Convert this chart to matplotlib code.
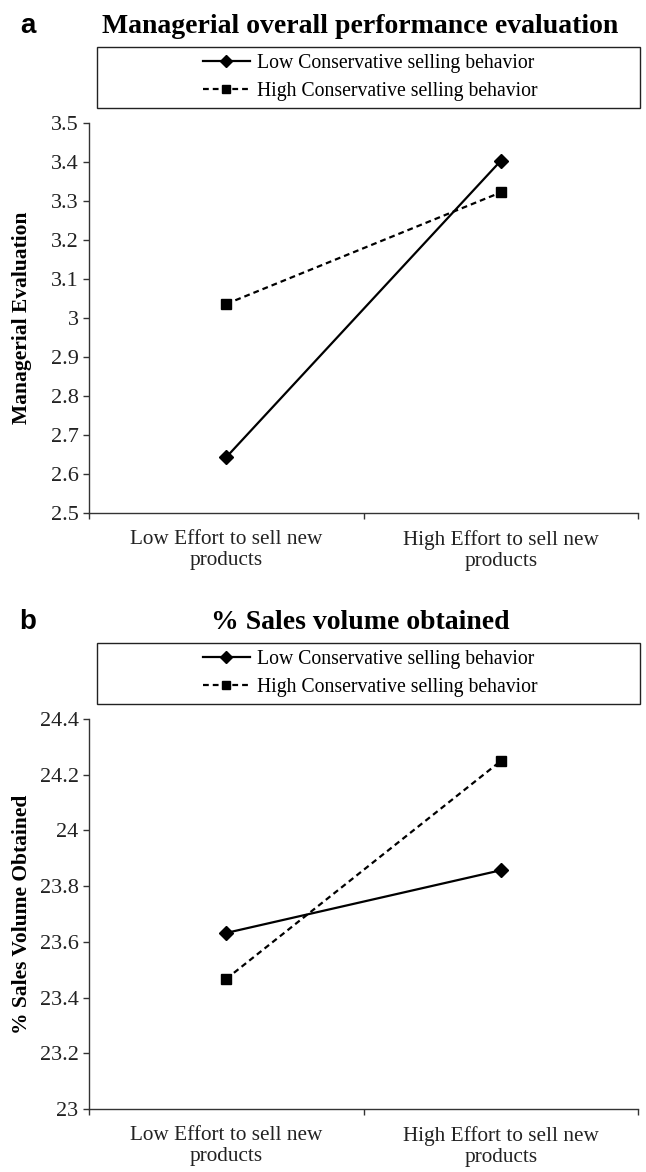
import matplotlib
matplotlib.use("Agg")
import matplotlib.pyplot as plt
from matplotlib.patches import Rectangle

# Data
categories = ["Low Effort to sell new\nproducts", "High Effort to sell new\nproducts"]
series_names = ["Low Conservative selling behavior", "High Conservative selling behavior"]

eval_low = [2.643, 3.403]
eval_high = [3.036, 3.322]
eval_ticks = [2.5, 2.6, 2.7, 2.8, 2.9, 3.0, 3.1, 3.2, 3.3, 3.4, 3.5]
eval_ticklabels = ["2.5", "2.6", "2.7", "2.8", "2.9", "3", "3.1", "3.2", "3.3", "3.4", "3.5"]

sales_low = [23.632, 23.857]
sales_high = [23.467, 24.249]
sales_ticks = [23.0, 23.2, 23.4, 23.6, 23.8, 24.0, 24.2, 24.4]
sales_ticklabels = ["23", "23.2", "23.4", "23.6", "23.8", "24", "24.2", "24.4"]

SERIF = "Liberation Serif"
W, H = 646, 1172

fig = plt.figure(figsize=(W / 100, H / 100), dpi=100)


def fx(px):
    return px / W


def fy(py):
    return 1 - py / H


def panel(letter, title, ylabel, low, high, ticks, ticklabels, ax_top, ylim):
    ax_bot = ax_top + 390
    ax = fig.add_axes([fx(89), fy(ax_bot), fx(638) - fx(89), (ax_bot - ax_top) / H])
    x = [0, 1]
    l1, = ax.plot(x, low, color="black", lw=1.6, marker="D", ms=7.5, mfc="black", mec="black")
    l2, = ax.plot(x, high, color="black", lw=1.6, ls=(0, (2.6, 1.8)), marker="s", ms=7.5,
                  mfc="black", mec="black")
    ax.set_xlim(-0.5, 1.5)
    ax.set_ylim(*ylim)
    ax.spines["top"].set_visible(False)
    ax.spines["right"].set_visible(False)
    for s in ("left", "bottom"):
        ax.spines[s].set_linewidth(1.0)
        ax.spines[s].set_color("#333333")
    ax.set_yticks(ticks)
    ax.set_yticklabels(ticklabels, fontfamily=SERIF, fontsize=16, color="#222222")
    ax.tick_params(axis="y", direction="out", length=4.5, width=1, pad=3, color="#333333")
    ax.set_xticks([-0.5, 0.5, 1.5])
    ax.set_xticklabels([])
    ax.tick_params(axis="x", which="major", direction="out", length=4.5, width=1, color="#333333")
    ax.set_xticks(x, minor=True)
    ax.set_xticklabels(categories, minor=True, fontfamily=SERIF, fontsize=15.3,
                       color="#222222", linespacing=1.2)
    ax.tick_params(axis="x", which="minor", length=0, pad=12)
    ax.set_ylabel(ylabel, fontfamily=SERIF, fontsize=15.5, fontweight="bold")
    ax.yaxis.set_label_coords(-0.104, 0.5)

    # panel letter and title
    fig.text(fx(28), fy(ax_top - 90), letter, fontfamily="Liberation Sans", fontweight="bold",
             fontsize=20, ha="center", va="baseline")
    fig.text(fx(360), fy(ax_top - 90), title, fontfamily=SERIF, fontweight="bold",
             fontsize=20, ha="center", va="baseline")

    # legend box
    box_top, box_bot = ax_top - 76, ax_top - 15
    fig.patches.append(Rectangle((fx(97), fy(box_bot)), fx(640) - fx(97), (box_bot - box_top) / H,
                                 transform=fig.transFigure, fill=False, lw=1.0, ec="#222222"))
    fig.legend([l1, l2], series_names, loc="center",
               bbox_to_anchor=(fx(370), fy((box_top + box_bot) / 2)),
               frameon=False, prop={"family": SERIF, "size": 14.2}, handlelength=2.4,
               handletextpad=0.35, labelspacing=0.45, borderpad=0, markerscale=0.75)
    return ax


panel("a", "Managerial overall performance evaluation", "Managerial Evaluation",
      eval_low, eval_high, eval_ticks, eval_ticklabels, 123, (2.5, 3.5))
panel("b", "% Sales volume obtained", "% Sales Volume Obtained",
      sales_low, sales_high, sales_ticks, sales_ticklabels, 719, (23.0, 24.4))

fig.savefig("out.png", dpi=100)
